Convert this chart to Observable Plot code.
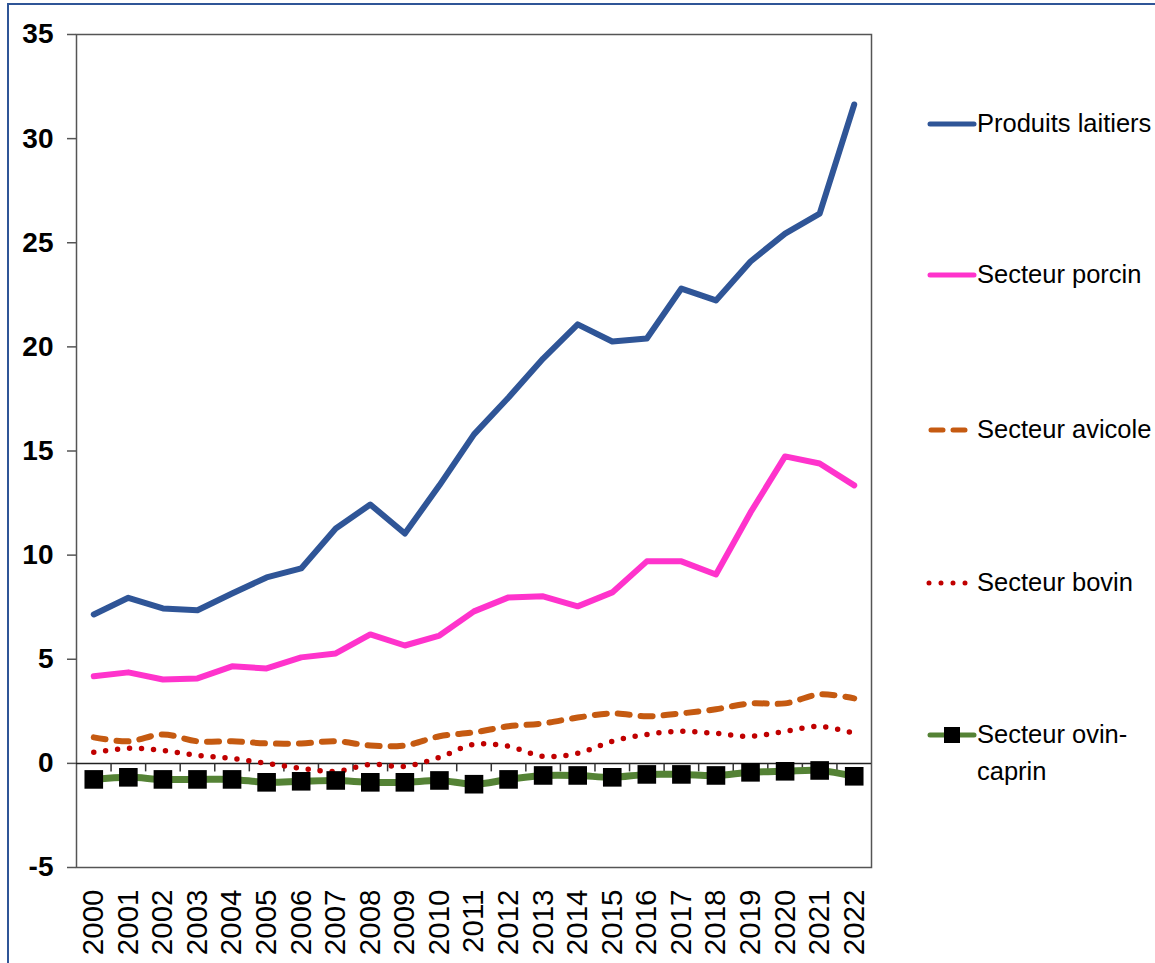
<!DOCTYPE html>
<html>
<head>
<meta charset="utf-8">
<script src="https://cdn.jsdelivr.net/npm/d3@7"></script>
<script src="https://cdn.jsdelivr.net/npm/@observablehq/plot@0.6"></script>
<style>
  html, body { margin: 0; padding: 0; background: #fff; }
  #wrap { position: relative; width: 1155px; height: 963px; overflow: hidden; font-family: "Liberation Sans", Arial, sans-serif; }
  #border { position: absolute; left: 7px; top: 3px; width: 1200px; height: 1000px; border-top: 2.5px solid #2F5597; border-left: 2.5px solid #2F5597; }
  #legend { position: absolute; left: 926px; top: 0; }
  .item { position: absolute; left: 0; white-space: nowrap; font-size: 25.5px; color: #000; line-height: 37px; }
  .item svg { position: absolute; left: 0; top: 0; }
  .item span { position: absolute; left: 51px; top: 0; }
</style>
</head>
<body>
<div id="wrap">
  <div id="border"></div>
  <div id="chart"></div>
  <div id="legend"></div>
</div>
<script>
const years = [2000,2001,2002,2003,2004,2005,2006,2007,2008,2009,2010,2011,2012,2013,2014,2015,2016,2017,2018,2019,2020,2021,2022];
const laitiers = [7.15,7.95,7.44,7.35,8.16,8.93,9.36,11.28,12.43,11.04,13.35,15.8,17.57,19.44,21.08,20.26,20.4,22.8,22.23,24.1,25.44,26.4,31.64];
const porcin = [4.18,4.37,4.03,4.08,4.66,4.56,5.09,5.28,6.19,5.66,6.14,7.3,7.97,8.02,7.54,8.21,9.7,9.7,9.07,12.05,14.74,14.4,13.35];
const avicole = [1.25,1.06,1.39,1.06,1.06,0.96,0.96,1.06,0.86,0.86,1.3,1.49,1.78,1.92,2.2,2.4,2.26,2.4,2.6,2.88,2.88,3.31,3.12];
const bovin = [0.53,0.72,0.62,0.38,0.24,0.0,-0.24,-0.38,-0.05,-0.14,0.29,0.91,0.82,0.34,0.48,1.06,1.39,1.54,1.44,1.3,1.54,1.78,1.44];
const ovin = [-0.77,-0.67,-0.77,-0.77,-0.77,-0.91,-0.86,-0.82,-0.91,-0.91,-0.82,-1.0,-0.77,-0.58,-0.58,-0.67,-0.53,-0.53,-0.58,-0.43,-0.38,-0.34,-0.62];
const yTicks = [-5,0,5,10,15,20,25,30,35];

const seriesNames = ["Produits laitiers","Secteur porcin","Secteur avicole","Secteur bovin","Secteur ovin-\ncaprin"];
const colors = ["#2F5597","#FF33CC","#C55A11","#C00000","#548235"];

const rows = (vals) => years.map((y, i) => ({year: y, value: vals[i]}));
const boundaries = years.slice(1).map(y => y - 0.5);
const tickSym = { draw(ctx) { ctx.moveTo(0, 0); ctx.lineTo(0, 8); } };

const chart = Plot.plot({
  width: 1155,
  height: 963,
  marginLeft: 76,
  marginTop: 34,
  marginRight: 284,
  marginBottom: 96,
  style: { fontFamily: "'Liberation Sans', Arial, sans-serif", background: "transparent", color: "#000" },
  x: { type: "linear", domain: [years[0] - 0.5, years[years.length - 1] + 0.5] },
  y: { domain: [-5, 35] },
  marks: [
    Plot.frame({ stroke: "#555", strokeWidth: 1.5 }),
    Plot.axisY({ ticks: yTicks, tickFormat: d => String(d), tickSize: 9, tickPadding: 14, fontSize: 28, fontWeight: "bold", stroke: "#555", strokeWidth: 1.5, label: null }),
    Plot.axisX({ ticks: years, tickFormat: d => String(d), tickSize: 0, tickPadding: 22, tickRotate: -90, fontSize: 29.5, label: null }),
    Plot.ruleY([0], { stroke: "#222", strokeWidth: 1.5 }),
    Plot.dot(boundaries, { x: d => d, y: 0, symbol: tickSym, stroke: "#333", strokeWidth: 1.5 }),
    Plot.line(rows(ovin), { x: "year", y: "value", stroke: colors[4], strokeWidth: 7, curve: "catmull-rom" }),
    Plot.line(rows(bovin), { x: "year", y: "value", stroke: colors[3], strokeWidth: 5.5, strokeDasharray: "0,12", strokeLinecap: "round", curve: "catmull-rom" }),
    Plot.line(rows(avicole), { x: "year", y: "value", stroke: colors[2], strokeWidth: 6, strokeDasharray: "12,11", strokeLinecap: "round", curve: "catmull-rom" }),
    Plot.line(rows(porcin), { x: "year", y: "value", stroke: colors[1], strokeWidth: 6, strokeLinejoin: "round" }),
    Plot.line(rows(laitiers), { x: "year", y: "value", stroke: colors[0], strokeWidth: 6, strokeLinejoin: "round", strokeLinecap: "round" }),
    Plot.dot(rows(ovin), { x: "year", y: "value", symbol: "square", r: 10.5, fill: "#000", stroke: "none" })
  ]
});
document.getElementById("chart").appendChild(chart);

// Legend
const legendTops = [105, 256, 411, 564, 716];
const legend = d3.select("#legend");
seriesNames.forEach((name, i) => {
  const item = legend.append("div").attr("class", "item").style("top", legendTops[i] + "px");
  const svg = item.append("svg").attr("width", 52).attr("height", 37);
  const line = svg.append("line").attr("x1", 4).attr("x2", 48).attr("y1", 19).attr("y2", 19)
    .attr("stroke", colors[i]).attr("stroke-linecap", "round");
  if (i === 0 || i === 1) line.attr("stroke-width", 5);
  if (i === 2) line.attr("stroke-width", 5).attr("stroke-dasharray", "12,10").attr("x1", 5).attr("x2", 47);
  if (i === 3) line.attr("stroke-width", 5).attr("stroke-dasharray", "0,12").attr("x1", 3).attr("x2", 43);
  if (i === 4) {
    line.attr("stroke-width", 5);
    svg.append("rect").attr("x", 18).attr("y", 11).attr("width", 16).attr("height", 16).attr("fill", "#000");
  }
  const span = item.append("span");
  name.split("\n").forEach((part, j) => {
    if (j > 0) span.append("br");
    span.append("tspan").text(part);
  });
});
</script>
</body>
</html>
